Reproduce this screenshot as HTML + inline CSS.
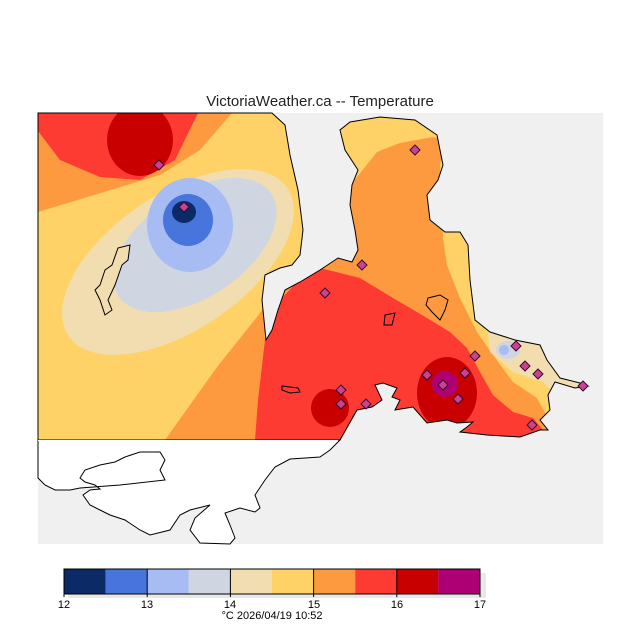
<!DOCTYPE html>
<html><head><meta charset="utf-8"><style>
body{margin:0;background:#fff;}
svg{display:block;font-family:"Liberation Sans",sans-serif;}
</style></head><body>
<svg width="640" height="640" viewBox="0 0 640 640" xmlns="http://www.w3.org/2000/svg">
<defs>
<clipPath id="land">
<polygon id="lp" points="38,113 272,113 285,125 290,155 298,190 303,230 300,255 292,265 280,268 265,275 262,300 266,340 272,330 278,310 285,290 300,282 320,270 338,258 352,262 358,250 355,230 350,205 352,185 358,170 345,150 340,130 350,122 380,117 415,120 437,135 440,150 443,165 438,180 427,195 430,220 445,232 460,232 468,245 470,280 475,320 490,332 515,340 540,345 547,360 560,378 580,383 588,386 575,388 555,382 548,395 550,410 540,420 548,430 540,430 520,437 487,435 460,432 467,427 473,422 457,423 447,420 427,423 413,407 395,410 400,400 392,397 397,388 383,383 375,385 382,400 372,407 357,410 340,440 38,440"/>
</clipPath>
</defs>
<text x="320" y="106" text-anchor="middle" font-size="15" fill="#222">VictoriaWeather.ca -- Temperature</text>
<rect x="38" y="113" width="565" height="431" fill="#f0f0f0"/>
<g clip-path="url(#land)">
<rect x="38" y="113" width="565" height="327" fill="#fed267"/>
<polygon points="38,113 232,113 200,150 160,175 38,212" fill="#fd9a3f"/>
<polygon points="38,113 198,113 175,160 140,180 100,177 60,160 38,131" fill="#fd3b33"/>
<ellipse cx="140" cy="140" rx="33" ry="36" fill="#c90000"/>
<ellipse cx="178" cy="262" rx="132" ry="68" transform="rotate(-34 178 262)" fill="#f1ddb0"/>
<ellipse cx="195" cy="245" rx="92" ry="52" transform="rotate(-34 195 245)" fill="#d0d5e2"/>
<ellipse cx="190" cy="225" rx="43" ry="47" fill="#a6bcf3"/>
<ellipse cx="188" cy="220" rx="25" ry="26" fill="#4875dc"/>
<ellipse cx="184" cy="212" rx="12" ry="11" fill="#0b2a66"/>
<polygon points="165,440 217,367 257,317 297,260 303,247 320,240 353,182 377,152 400,143 433,137 445,140 440,165 443,238 447,265 460,298 477,332 493,355 513,382 537,398 550,422 560,440" fill="#fd9a3f"/>
<polygon points="487,325 490,352 513,372 543,382 560,398 600,398 600,320" fill="#f1ddb0"/>
<ellipse cx="508" cy="350" rx="12" ry="9" fill="#d0d5e2"/>
<ellipse cx="504" cy="350" rx="5" ry="5" fill="#a6bcf3"/>
<polygon points="255,440 258,400 265,340 280,300 297,282 320,268 360,278 393,298 427,318 450,332 467,348 480,372 493,395 513,412 533,418 543,430 548,440" fill="#fd3b33"/>
<circle cx="330" cy="408" r="19" fill="#c90000"/>
<ellipse cx="447" cy="393" rx="30" ry="36" fill="#c90000"/>
<circle cx="445" cy="384" r="13" fill="#ae0074"/>
</g>
<use href="#lp" fill="none" stroke="#000" stroke-width="1"/>
<polygon points="118,248 130,245 128,260 122,265 115,285 108,300 112,310 105,315 100,300 95,290 100,285 105,270 112,265" fill="#f1ddb0" stroke="#000"/>
<polygon points="428,298 440,295 448,300 445,310 440,320 432,312 426,305" fill="#fd9a3f" stroke="#000"/>
<polygon points="385,315 395,313 392,325 384,325" fill="#fd3b33" stroke="#000"/>
<polygon points="282,386 298,388 300,392 290,393 282,390" fill="#fd3b33" stroke="#000"/>
<polygon points="38,440 340,440 330,450 320,457 290,459 275,467 265,480 255,495 260,508 255,512 240,508 225,513 230,525 235,538 230,544 200,543 190,530 195,518 210,505 190,510 180,515 170,530 150,535 140,530 125,520 110,515 100,510 90,505 83,495 90,490 100,489 95,485 85,482 80,478 85,470 100,465 115,462 125,457 140,452 160,452 165,460 160,470 165,480 120,485 80,488 70,490 55,490 45,485 38,478" fill="#fff" stroke="#000"/>
<rect x="38" y="440" width="300" height="1" fill="#fff"/>
<g fill="#d04090" stroke="#301030" stroke-width="1">
<polygon points="159,160 164,165 159,170 154,165"/>
<polygon points="184,202 189,207 184,212 179,207"/>
<polygon points="415,145 420,150 415,155 410,150"/>
<polygon points="362,260 367,265 362,270 357,265"/>
<polygon points="325,288 330,293 325,298 320,293"/>
<polygon points="341,385 346,390 341,395 336,390"/>
<polygon points="341,399 346,404 341,409 336,404"/>
<polygon points="366,399 371,404 366,409 361,404"/>
<polygon points="475,351 480,356 475,361 470,356"/>
<polygon points="516,341 521,346 516,351 511,346"/>
<polygon points="525,361 530,366 525,371 520,366"/>
<polygon points="538,369 543,374 538,379 533,374"/>
<polygon points="443,380 448,385 443,390 438,385"/>
<polygon points="427,370 432,375 427,380 422,375"/>
<polygon points="465,368 470,373 465,378 460,373"/>
<polygon points="458,394 463,399 458,404 453,399"/>
<polygon points="532,420 537,425 532,430 527,425"/>
<polygon points="583,381 588,386 583,391 578,386"/>
</g>
<rect x="68" y="573" width="418" height="25" fill="#e8e8e8"/>
<rect x="64" y="569" width="41.6" height="25" fill="#0b2a66"/>
<rect x="105.6" y="569" width="41.6" height="25" fill="#4875dc"/>
<rect x="147.2" y="569" width="41.6" height="25" fill="#a6bcf3"/>
<rect x="188.8" y="569" width="41.6" height="25" fill="#d0d5e2"/>
<rect x="230.4" y="569" width="41.6" height="25" fill="#f1ddb0"/>
<rect x="272" y="569" width="41.6" height="25" fill="#fed267"/>
<rect x="313.6" y="569" width="41.6" height="25" fill="#fd9a3f"/>
<rect x="355.2" y="569" width="41.6" height="25" fill="#fd3b33"/>
<rect x="396.8" y="569" width="41.6" height="25" fill="#c90000"/>
<rect x="438.4" y="569" width="41.6" height="25" fill="#ae0074"/>
<g stroke="#000" stroke-width="1" fill="none">
<rect x="64" y="569" width="416" height="25"/>
<line x1="147.2" y1="569" x2="147.2" y2="597"/>
<line x1="230.4" y1="569" x2="230.4" y2="597"/>
<line x1="313.6" y1="569" x2="313.6" y2="597"/>
<line x1="396.8" y1="569" x2="396.8" y2="597"/>
<line x1="64" y1="594" x2="64" y2="597"/>
<line x1="480" y1="594" x2="480" y2="597"/>
</g>
<g font-size="11" fill="#000" text-anchor="middle">
<text x="64" y="608">12</text><text x="147" y="608">13</text><text x="230" y="608">14</text>
<text x="314" y="608">15</text><text x="397" y="608">16</text><text x="480" y="608">17</text>
<text x="272" y="619">°C  2026/04/19  10:52</text>
</g>
</svg>
</body></html>
